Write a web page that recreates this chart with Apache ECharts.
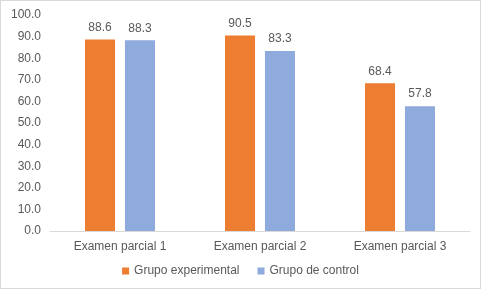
<!DOCTYPE html>
<html>
<head>
<meta charset="utf-8">
<script src="https://cdn.jsdelivr.net/npm/echarts@6/dist/echarts.min.js"></script>
<style>
  html, body { margin: 0; padding: 0; background: #fff; }
  #chart { width: 479px; height: 287px; border: 1px solid #d9d9d9; }
</style>
</head>
<body>
<div id="chart"></div>
<script>
const categories = ['Examen parcial 1', 'Examen parcial 2', 'Examen parcial 3'];
const seriesNames = ['Grupo experimental', 'Grupo de control'];
const experimental = [88.6, 90.5, 68.4];
const control = [88.3, 83.3, 57.8];

const chart = echarts.init(document.getElementById('chart'));
const textColor = '#595959';
const font = 'Liberation Sans, Arial, sans-serif';

const label = {
  show: true,
  position: 'top',
  color: textColor,
  fontSize: 12,
  fontFamily: font,
  distance: 6,
  formatter: p => p.value.toFixed(1)
};

chart.setOption({
  animation: false,
  textStyle: { fontFamily: font },
  grid: { left: 49, right: 10, top: 14, bottom: 57 },
  legend: {
    bottom: 6,
    left: 'center',
    itemWidth: 7,
    itemHeight: 7,
    itemGap: 18,
    icon: 'rect',
    textStyle: { color: textColor, fontSize: 12, fontFamily: font },
    data: seriesNames
  },
  xAxis: {
    type: 'category',
    data: categories,
    axisLine: { lineStyle: { color: '#d9d9d9' } },
    axisTick: { show: false },
    axisLabel: { color: textColor, fontSize: 12, fontFamily: font, margin: 10 }
  },
  yAxis: {
    type: 'value',
    min: 0,
    max: 100,
    interval: 10,
    splitLine: { show: false },
    axisLine: { show: false },
    axisTick: { show: false },
    axisLabel: { color: textColor, fontSize: 12, fontFamily: font, margin: 9, formatter: v => v.toFixed(1) }
  },
  series: [
    {
      name: seriesNames[0],
      type: 'bar',
      data: experimental,
      itemStyle: { color: '#ed7d31' },
      barGap: '33%',
      barCategoryGap: '50%',
      label: label
    },
    {
      name: seriesNames[1],
      type: 'bar',
      data: control,
      itemStyle: { color: '#8faadc' },
      label: label
    }
  ]
});
</script>
</body>
</html>
